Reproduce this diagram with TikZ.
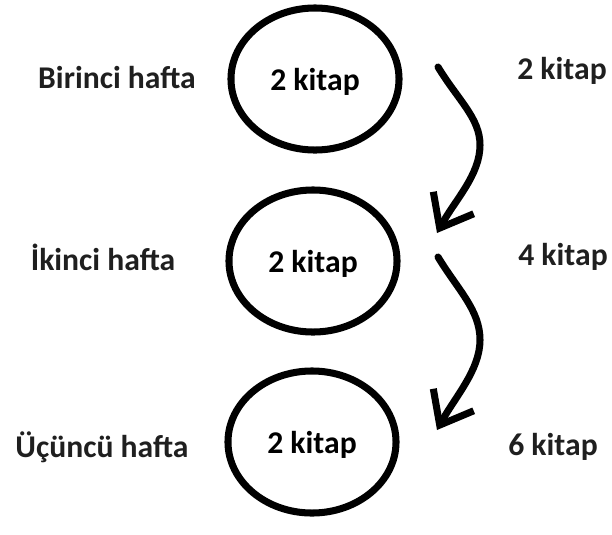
\documentclass[tikz,border=0pt]{standalone}
\usepackage{fontspec}
\setmainfont{Carlito}
\usepackage{tikz}
\usetikzlibrary{positioning,arrows.meta,shapes.geometric}

\begin{document}
\begin{tikzpicture}[
  x=0.025cm, y=-0.025cm,
  font=\fontsize{22.5}{27}\selectfont\bfseries,
  week/.style={draw, ellipse, line width=5pt, inner sep=0pt, text depth=0pt,
               minimum width=4.2cm, minimum height=3.55cm},
  lbl/.style={inner sep=0pt, anchor=base, text=black!88},
  arr/.style={line width=5pt, line cap=round, line join=round,
              -{Straight Barb[length=0.72cm, width=1.15cm, line width=5pt]}},
]
\useasboundingbox (0,0) rectangle (612,534);

% weeks
\node[week] (w1) at (315,79)  {2 kitap};
\node[week] (w2) at (313,261) {2 kitap};
\node[week] (w3) at (312,442) {2 kitap};

% left labels
\node[lbl] (l1) at (117,88)  {Birinci hafta};
\node[lbl] (l2) at (103,270) {İkinci hafta};
\node[lbl] (l3) at (102,457) {Üçüncü hafta};

% running totals
\node[lbl] (t1) at (562,79)  {2 kitap};
\node[lbl] (t2) at (563,265) {4 kitap};
\node[lbl] (t3) at (553,455) {6 kitap};

% arrows between weeks
\coordinate (a1s) at (438,67);
\coordinate (a1e) at (437,233);
\coordinate (a2s) at (438,257);
\coordinate (a2e) at (437,430);
\draw[arr] (a1s) .. controls (458,100) and (480,118) .. (480,145)
                 .. controls (480,175) and (455,200) .. (a1e);
\draw[arr] (a2s) .. controls (458,290) and (480,310) .. (480,340)
                 .. controls (480,370) and (455,397) .. (a2e);
\end{tikzpicture}
\end{document}
